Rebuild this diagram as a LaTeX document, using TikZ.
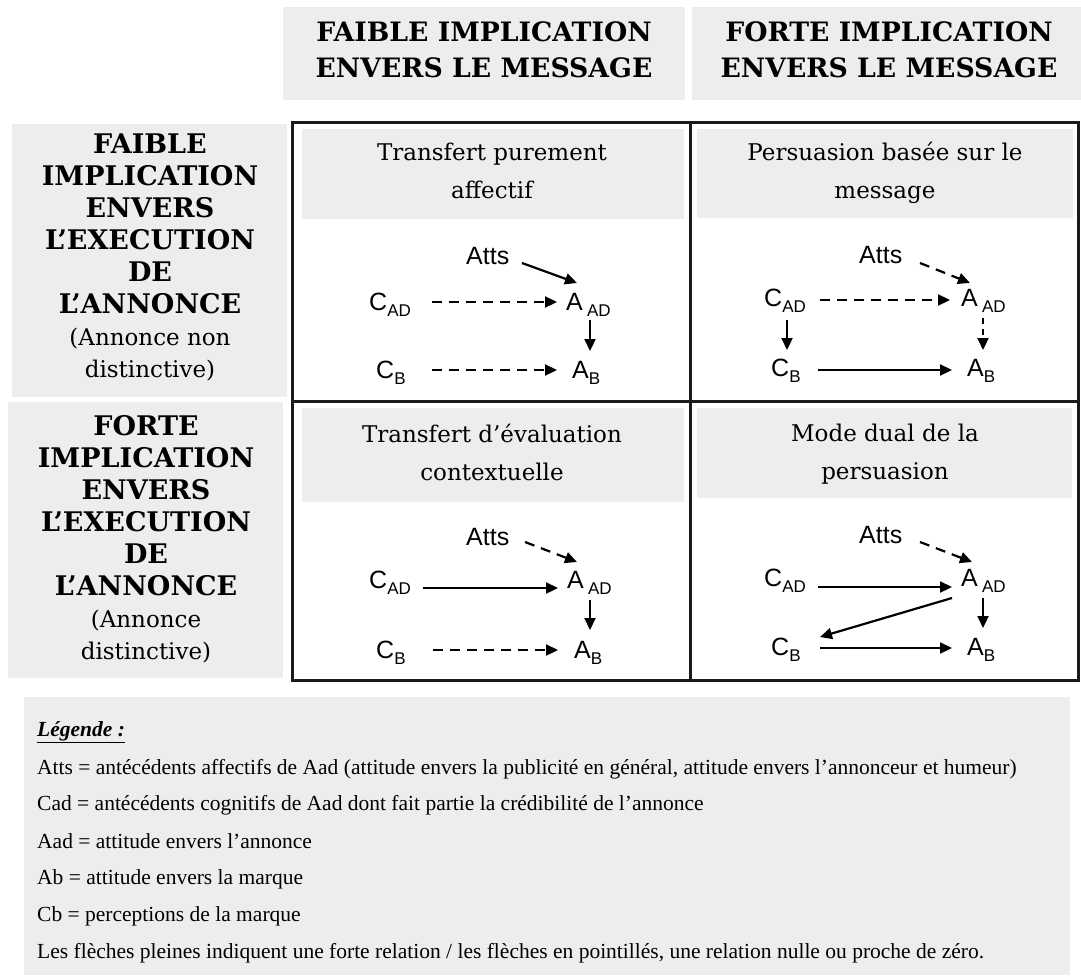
\documentclass[tikz,border=0pt]{standalone}
\usepackage{fontspec}
\setmainfont{Liberation Serif}
\newfontfamily\hdfont{DejaVu Serif}
\newfontfamily\dgfont{Liberation Sans}
\usetikzlibrary{arrows.meta,calc}
\definecolor{boxgray}{HTML}{EDEDED}
\definecolor{framecol}{HTML}{1A1A1A}
\newcommand{\sbx}[1]{\raisebox{-6pt}{\fontsize{17}{17}\selectfont #1}}
\begin{document}
\begin{tikzpicture}[x=1pt,y=-1pt,
  graybox/.style={fill=boxgray,draw=none},
  colhead/.style={font=\hdfont\bfseries\fontsize{26.7}{36}\selectfont,align=center,inner sep=0pt},
  rowhead/.style={font=\hdfont\bfseries\fontsize{27}{32}\selectfont,align=center,inner sep=0pt},
  celltitle/.style={font=\hdfont\fontsize{23}{38}\selectfont,align=center,inner sep=0pt},
  lbl/.style={font=\dgfont\fontsize{25}{25}\selectfont,inner sep=0pt,anchor=base west},
  solidarr/.style={line width=2.2pt,-{Triangle[length=12pt,width=11pt]}},
  dasharr/.style={solidarr,dash pattern=on 10pt off 7pt},
  legtext/.style={font=\fontsize{21.5}{21.5}\selectfont,anchor=base west,inner sep=0pt},
  frameline/.style={draw=framecol,line width=3pt}]
\useasboundingbox (0,0) rectangle (1081,979);
\fill[white] (0,0) rectangle (1081,979);

% column headers
\fill[graybox] (283,7) rectangle (685,100);
\fill[graybox] (692,7) rectangle (1081,100);
\node[colhead] (ch1) at (484,50) {FAIBLE IMPLICATION\\ENVERS LE MESSAGE};
\node[colhead] (ch2) at (889,50) {FORTE IMPLICATION\\ENVERS LE MESSAGE};

% row headers
\fill[graybox] (12,124) rectangle (287,397);
\fill[graybox] (8,402) rectangle (283,678);
\node[rowhead] (rh1) at (150,257) {FAIBLE\\IMPLICATION\\ENVERS\\L’EXECUTION\\DE\\L’ANNONCE\\{\mdseries\fontsize{23}{32}\selectfont (Annonce non}\\{\mdseries\fontsize{23}{32}\selectfont distinctive)}};
\node[rowhead] (rh2) at (146,539) {FORTE\\IMPLICATION\\ENVERS\\L’EXECUTION\\DE\\L’ANNONCE\\{\mdseries\fontsize{23}{32}\selectfont (Annonce}\\{\mdseries\fontsize{23}{32}\selectfont distinctive)}};

% cell title boxes
\fill[graybox] (302,129) rectangle (684,219);
\fill[graybox] (697,129) rectangle (1073,218);
\fill[graybox] (302,408) rectangle (684,502);
\fill[graybox] (697,408) rectangle (1072,498);
\node[celltitle] (t1) at (492,171) {Transfert purement\\affectif};
\node[celltitle] (t2) at (885,173) {Persuasion basée sur le\\message};
\node[celltitle] (t3) at (492,452) {Transfert d’évaluation\\contextuelle};
\node[celltitle] (t4) at (885,454) {Mode dual de la\\persuasion};

% frame
\draw[frameline] (292,123) rectangle (1078,680);
\draw[frameline] (690,123) -- (690,680);
\draw[frameline] (292,401) -- (1078,401);

% ---- cell 1
\node[lbl] (atts1) at (466,264) {Atts};
\node[lbl] (cad1) at (369,310) {C\sbx{AD}};
\node[lbl] (aad1) at (566,310) {A\,\sbx{AD}};
\node[lbl] (cb1) at (376,378) {C\sbx{B}};
\node[lbl] (ab1) at (572,378) {A\sbx{B}};
\draw[solidarr] ($(atts1.base west)+(56,-1)$) -- ($(aad1.base west)+(11,-27)$);
\draw[dasharr] ($(cad1.base west)+(63,-8)$) -- ($(aad1.base west)+(-9,-8)$);
\draw[solidarr] ($(aad1.base west)+(24,10)$) -- ($(ab1.base west)+(18,-27)$);
\draw[dasharr] ($(cb1.base west)+(56,-8)$) -- ($(ab1.base west)+(-15,-8)$);

% ---- cell 2
\node[lbl] (atts2) at (859,263) {Atts};
\node[lbl] (cad2) at (764,306) {C\sbx{AD}};
\node[lbl] (aad2) at (961,306) {A\,\sbx{AD}};
\node[lbl] (cb2) at (771,376) {C\sbx{B}};
\node[lbl] (ab2) at (967,376) {A\sbx{B}};
\draw[dasharr] ($(atts2.base west)+(61,0)$) -- ($(aad2.base west)+(9,-23)$);
\draw[dasharr] ($(cad2.base west)+(56,-6)$) -- ($(aad2.base west)+(-11,-6)$);
\draw[dasharr,dash pattern=on 6pt off 5pt] ($(aad2.base west)+(22,12)$) -- ($(ab2.base west)+(16,-26)$);
\draw[solidarr] ($(cad2.base west)+(23,14)$) -- ($(cb2.base west)+(16,-26)$);
\draw[solidarr] ($(cb2.base west)+(47,-6)$) -- ($(ab2.base west)+(-15,-6)$);

% ---- cell 3
\node[lbl] (atts3) at (466,545) {Atts};
\node[lbl] (cad3) at (369,588) {C\sbx{AD}};
\node[lbl] (aad3) at (567,588) {A\,\sbx{AD}};
\node[lbl] (cb3) at (376,658) {C\sbx{B}};
\node[lbl] (ab3) at (574,658) {A\sbx{B}};
\draw[dasharr] ($(atts3.base west)+(59,-3)$) -- ($(aad3.base west)+(10,-26)$);
\draw[solidarr] ($(cad3.base west)+(54,0)$) -- ($(aad3.base west)+(-9,0)$);
\draw[solidarr] ($(aad3.base west)+(23,12)$) -- ($(ab3.base west)+(16,-28)$);
\draw[dasharr] ($(cb3.base west)+(57,-8)$) -- ($(ab3.base west)+(-16,-8)$);

% ---- cell 4
\node[lbl] (atts4) at (859,543) {Atts};
\node[lbl] (cad4) at (764,586) {C\sbx{AD}};
\node[lbl] (aad4) at (961,586) {A\,\sbx{AD}};
\node[lbl] (cb4) at (771,655) {C\sbx{B}};
\node[lbl] (ab4) at (967,655) {A\sbx{B}};
\draw[dasharr] ($(atts4.base west)+(61,-1)$) -- ($(aad4.base west)+(11,-24)$);
\draw[solidarr] ($(cad4.base west)+(54,1)$) -- ($(aad4.base west)+(-9,1)$);
\draw[solidarr] ($(aad4.base west)+(22,12)$) -- ($(ab4.base west)+(16,-27)$);
\draw[solidarr] ($(aad4.base west)+(-9,12)$) -- ($(cb4.base west)+(49,-18)$);
\draw[solidarr] ($(cb4.base west)+(49,-7)$) -- ($(ab4.base west)+(-15,-7)$);

% legend
\fill[graybox] (24,697) rectangle (1070,975);
\node[legtext] (leg0) at (37,736) {\underline{\textbf{\textit{Légende :}}}};
\node[legtext] (leg1) at (37,774) {Atts = antécédents affectifs de Aad (attitude envers la publicité en général, attitude envers l’annonceur et humeur)};
\node[legtext] (leg2) at (37,810) {Cad = antécédents cognitifs de Aad dont fait partie la crédibilité de l’annonce};
\node[legtext] (leg3) at (37,848) {Aad = attitude envers l’annonce};
\node[legtext] (leg4) at (37,884) {Ab = attitude envers la marque};
\node[legtext] (leg5) at (37,921) {Cb = perceptions de la marque};
\node[legtext] (leg6) at (37,958) {Les flèches pleines indiquent une forte relation / les flèches en pointillés, une relation nulle ou proche de zéro.};
\end{tikzpicture}
\end{document}
